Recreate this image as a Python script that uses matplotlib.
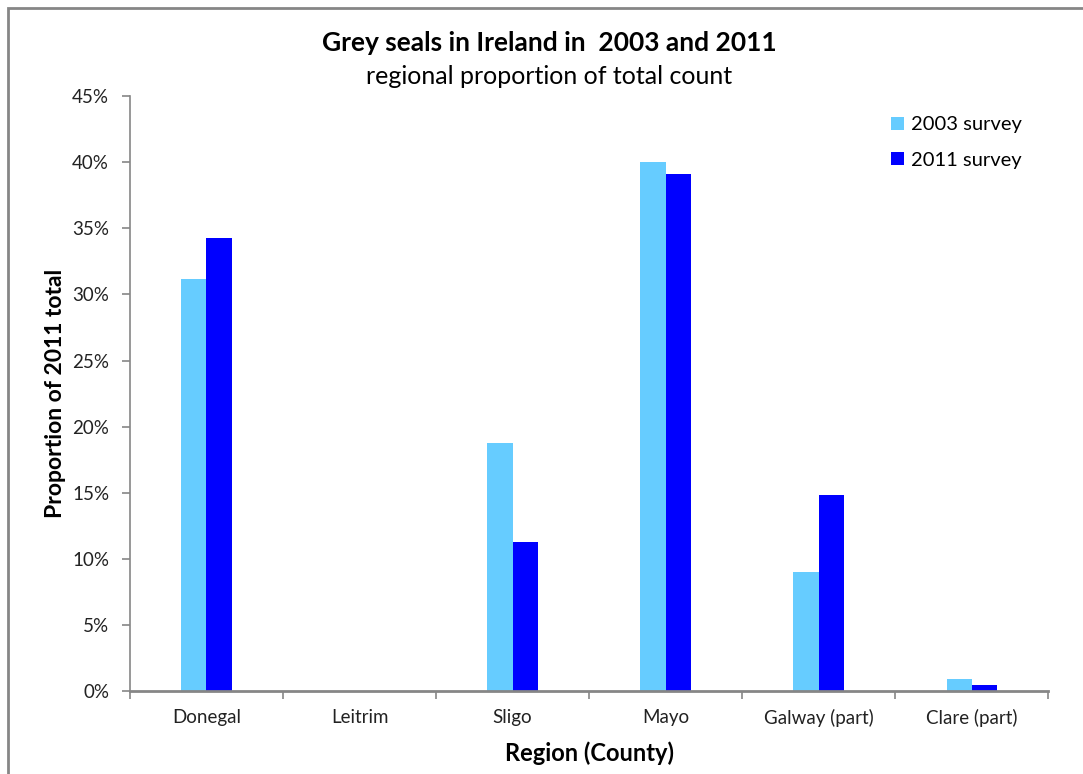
import numpy as np
import matplotlib.pyplot as plt
import matplotlib.patches as patches
from matplotlib.ticker import FuncFormatter, MultipleLocator

# data
regions = ['Donegal', 'Leitrim', 'Sligo', 'Mayo', 'Galway (part)', 'Clare (part)']
survey_2003 = [31.2, 0.0, 18.8, 40.0, 9.0, 0.9]
survey_2011 = [34.3, 0.0, 11.3, 39.1, 14.8, 0.45]

plt.rcParams['font.family'] = ['Lato', 'DejaVu Sans']

fig = plt.figure(figsize=(10.83, 7.74), dpi=100)
ax = fig.add_axes([0.12, 0.107, 0.848, 0.769])

# outer chart frame (right / bottom edges run off the image)
frame = patches.Rectangle((8 / 1083, -0.05), 1.2, 1.05 - 8 / 774,
                          transform=fig.transFigure, fill=False,
                          edgecolor='#868686', linewidth=2, clip_on=False)
fig.patches.append(frame)

x = np.arange(len(regions))
w = 0.165
ax.bar(x - w / 2, survey_2003, w, color='#66CCFF', label='2003 survey')
ax.bar(x + w / 2, survey_2011, w, color='#0000FF', label='2011 survey')

ax.set_xlim(-0.5, len(regions) - 0.5)
ax.set_ylim(0, 45)
ax.yaxis.set_major_locator(MultipleLocator(5))
ax.yaxis.set_major_formatter(FuncFormatter(lambda v, p: f'{v:.0f}%'))

ax.set_xticks(x)
ax.set_xticklabels(regions)
ax.set_xticks(np.arange(-0.5, len(regions)), minor=True)
ax.tick_params(axis='x', which='major', length=0, pad=13, labelsize=13.5, colors='#222222')
ax.tick_params(axis='x', which='minor', length=6, color='#868686', width=1.2)
ax.tick_params(axis='y', length=6, color='#868686', width=1.2, pad=9,
               labelsize=13.5, labelcolor='#222222')

for s in ['top', 'right']:
    ax.spines[s].set_visible(False)
ax.spines['left'].set_color('#868686')
ax.spines['bottom'].set_color('#868686')
ax.spines['bottom'].set_linewidth(2)
ax.spines['left'].set_linewidth(1.2)

ax.set_ylabel('Proportion of 2011 total', fontsize=16.5, fontweight='bold', labelpad=4)
ax.set_xlabel('Region (County)', fontsize=17, fontweight='bold', labelpad=10)

fig.text(0.507, 0.944, 'Grey seals in Ireland in  2003 and 2011',
         ha='center', va='center', fontsize=19, fontweight='bold')
fig.text(0.507, 0.901, 'regional proportion of total count',
         ha='center', va='center', fontsize=18)

ax.legend(loc='upper right', bbox_to_anchor=(0.991, 0.996), frameon=False,
          fontsize=14.5, handlelength=0.65, handleheight=0.65, handletextpad=0.35,
          labelspacing=0.9)

fig.savefig('out.png', dpi=100)
